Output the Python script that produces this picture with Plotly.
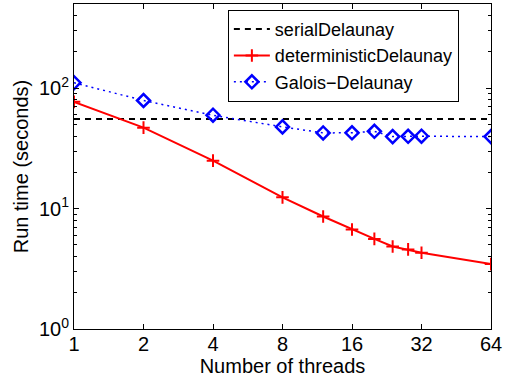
import plotly.graph_objects as go

threads = [1, 2, 4, 8, 12, 16, 20, 24, 28, 32, 64]
serial_time = 55.5
deterministic_time = [77, 47, 25, 12.4, 8.6, 6.7, 5.6, 4.85, 4.58, 4.3, 3.46]
galois_time = [111, 79, 59.6, 47.7, 42.5, 42.6, 43.8, 39.6, 39.8, 39.9, 39.6]

x_ticks = [1, 2, 4, 8, 16, 32, 64]
y_ticks = [1, 10, 100]
y_ticktext = ["10<sup>0</sup>", "10<sup>1</sup>", "10<sup>2</sup>"]

font_family = "Liberation Sans, Arial, sans-serif"

fig = go.Figure()
fig.add_trace(go.Scatter(
    x=[threads[0], threads[-1]], y=[serial_time, serial_time],
    mode="lines", name="serialDelaunay",
    line=dict(color="black", width=2, dash="6px,5px"),
))
fig.add_trace(go.Scatter(
    x=threads, y=deterministic_time,
    mode="lines+markers", name="deterministicDelaunay",
    line=dict(color="red", width=2),
    marker=dict(symbol="cross-thin", size=9, color="red",
                line=dict(color="red", width=2)),
))
fig.add_trace(go.Scatter(
    x=threads, y=galois_time,
    mode="lines+markers", name="Galois\u2212Delaunay",
    line=dict(color="blue", width=1.5, dash="2px,4px"),
    marker=dict(symbol="diamond-open", size=10, color="blue",
                line=dict(color="blue", width=2.5)),
))

axis_common = dict(
    type="log", showgrid=False, zeroline=False,
    showline=True, linecolor="black", linewidth=1, mirror="allticks",
    ticks="inside", ticklen=5, tickcolor="black",
    tickfont=dict(size=20, color="black"),
)

fig.update_xaxes(
    **axis_common,
    range=[0, 1.80618],
    tickvals=x_ticks, ticktext=[str(v) for v in x_ticks],
    ticklabelstandoff=-3,
    title=dict(text="Number of threads", font=dict(size=20, color="black"), standoff=0),
)
fig.update_yaxes(
    **axis_common,
    range=[0, 2.699],
    tickvals=y_ticks, ticktext=y_ticktext,
    minor=dict(ticks="inside", ticklen=3, tickcolor="black",
               tickvals=[m * d for d in (1, 10, 100) for m in range(2, 10)]),
    title=dict(text="Run time (seconds)", font=dict(size=20, color="black"), standoff=4),
)

fig.update_layout(
    width=505, height=381,
    margin=dict(l=74, r=14, t=4, b=52),
    paper_bgcolor="white", plot_bgcolor="white",
    font=dict(family=font_family, color="black"),
    showlegend=True,
    legend=dict(
        x=0.369, y=0.982, xanchor="left", yanchor="top",
        bgcolor="white", bordercolor="black", borderwidth=1,
        font=dict(size=18, color="black"),
        tracegroupgap=0, itemwidth=36,
    ),
)

fig.write_html("out.html")
